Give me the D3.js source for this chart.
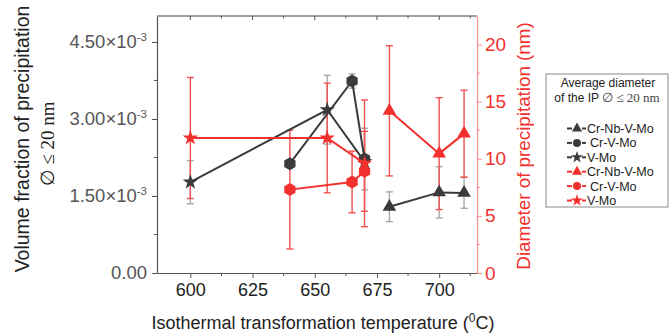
<!DOCTYPE html>
<html lang="en">
<head>
<meta charset="UTF-8">
<script src="https://d3js.org/d3.v7.min.js"></script>
<style>
  body { margin: 0; background: #fff; }
  svg { font-family: "Liberation Sans", Arial, sans-serif; }
</style>
</head>
<body>
<div id="chart"></div>
<script>
// temperatures (°C) per alloy
const tempNb = [680, 700, 710];
const tempCr = [640, 665, 670];
const tempV  = [600, 655, 670];

// volume fraction (left axis)
const fracNb = [1.29e-3, 1.57e-3, 1.56e-3];
const fracNbErr = [0.29e-3, 0.50e-3, 0.30e-3];
const fracCr = [2.13e-3, 3.74e-3, 2.22e-3];
const fracCrErr = [0, 0.14e-3, 0.60e-3];
const fracV = [1.77e-3, 3.18e-3, 2.17e-3];
const fracVErr = [0.42e-3, 0.67e-3, 0];

// diameter in nm (right axis)
const diamNb = [14.2, 10.45, 12.2];
const diamNbErr = [5.7, 4.9, 3.8];
const diamCr = [7.3, 7.97, 8.9];
const diamCrErr = [5.2, 2.7, 3.5];
const diamV = [11.82, 11.82, 9.6];
const diamVErr = [5.3, 4.8, 5.55];

const leftTicks = [0, 1.5e-3, 3e-3, 4.5e-3];
const rightTicks = [0, 5, 10, 15, 20];
const xTicks = [600, 625, 650, 675, 700];
const legendNames = ["Cr-Nb-V-Mo", "Cr-V-Mo", "V-Mo"];

const width = 670, height = 334;
const L = 157, R = 477, T = 16, B = 273;
const dark = "#3b3b3b", red = "#f2302e";

const svg = d3.select("#chart").append("svg")
  .attr("width", width).attr("height", height);

const x = d3.scaleLinear().domain([586.6, 715.2]).range([L, R]);
const yL = d3.scaleLinear().domain([0, 5.006e-3]).range([B, T]);
const yR = d3.scaleLinear().domain([0, 22.5]).range([B, T]);

// frame: top line
svg.append("line").attr("x1", L).attr("x2", R).attr("y1", T).attr("y2", T)
  .attr("stroke", "#444").attr("stroke-width", 1.2);

// bottom axis
const xAxis = svg.append("g").attr("transform", `translate(0,${B})`)
  .call(d3.axisBottom(x).tickValues(xTicks).tickSize(5).tickSizeOuter(0).tickFormat(d3.format("d")));
xAxis.select(".domain").attr("stroke", "#555").attr("stroke-width", 1.2);
xAxis.selectAll(".tick line").attr("stroke", "#555");
xAxis.selectAll("text").attr("font-size", 18).attr("fill", "#222").attr("y", 10).attr("dy", "0.71em");
xAxis.selectAll(".minor").data([612.5, 637.5, 662.5, 687.5, 712.5]).join("line")
  .attr("x1", d => x(d)).attr("x2", d => x(d)).attr("y1", 0).attr("y2", 3).attr("stroke", "#555");

// top inward ticks
svg.append("g").selectAll("line").data(xTicks.concat([612.5, 637.5, 662.5, 687.5, 712.5])).join("line")
  .attr("x1", d => x(d)).attr("x2", d => x(d)).attr("y1", T).attr("y2", d => T + (d % 25 === 0 ? 4 : 2.5))
  .attr("stroke", "#555");

// left axis
const supFmt = function(sel) {
  sel.each(function(d) {
    const t = d3.select(this).text("");
    if (d === 0) { t.text("0.00"); return; }
    t.append("tspan").text((d * 1e3).toFixed(2) + "×10");
    t.append("tspan").attr("font-size", 11.5).attr("dy", -7).text("-3");
  });
};
const yAxisL = svg.append("g").attr("transform", `translate(${L},0)`)
  .call(d3.axisLeft(yL).tickValues(leftTicks).tickSize(5).tickSizeOuter(0));
yAxisL.select(".domain").attr("stroke", "#555").attr("stroke-width", 1.2);
yAxisL.selectAll(".tick line").attr("stroke", "#555");
yAxisL.selectAll(".tick text").attr("font-size", 18.5).attr("fill", "#555").attr("x", -10).call(supFmt);
yAxisL.selectAll(".minor").data([0.75e-3, 2.25e-3, 3.75e-3]).join("line")
  .attr("x1", -3).attr("x2", 0).attr("y1", d => yL(d)).attr("y2", d => yL(d)).attr("stroke", "#555");

// right axis (red)
const yAxisR = svg.append("g").attr("transform", `translate(${R},0)`)
  .call(d3.axisRight(yR).tickValues(rightTicks).tickSize(5).tickSizeOuter(0));
yAxisR.select(".domain").attr("stroke", "#ff8a8a").attr("stroke-width", 1.2);
yAxisR.selectAll(".tick line").attr("stroke", "#ff8a8a");
yAxisR.selectAll(".tick text").attr("font-size", 19).attr("fill", red).attr("x", 8);
yAxisR.selectAll(".minor").data([2.5, 7.5, 12.5, 17.5]).join("line")
  .attr("x1", 0).attr("x2", 3).attr("y1", d => yR(d)).attr("y2", d => yR(d)).attr("stroke", "#ff8a8a");

// axis titles
svg.append("text").attr("transform", "translate(29,139) rotate(-90)")
  .attr("text-anchor", "middle").attr("font-size", 19.5).attr("fill", "#222")
  .text("Volume fraction of precipitation");
svg.append("text").attr("transform", "translate(54,144) rotate(-90)")
  .attr("text-anchor", "middle").attr("font-size", 19).attr("fill", "#222")
  .attr("font-family", "Liberation Serif, serif")
  .text("∅ ≤ 20 nm");
svg.append("text").attr("transform", "translate(530,146) rotate(-90)")
  .attr("text-anchor", "middle").attr("font-size", 18.8).attr("fill", red)
  .text("Diameter of precipitation (nm)");
const xl = svg.append("text").attr("x", 323).attr("y", 329)
  .attr("text-anchor", "middle").attr("font-size", 18).attr("fill", "#222");
xl.append("tspan").text("Isothermal transformation temperature (");
xl.append("tspan").attr("font-size", 12).attr("dy", -7).text("0");
xl.append("tspan").attr("dy", 7).text("C)");

// markers
const hexPath = r => d3.range(6).map(i => {
  const a = Math.PI / 6 + i * Math.PI / 3;
  return [r * Math.cos(a), r * Math.sin(a)];
});
const markerPath = {
  tri: d3.symbol(d3.symbolTriangle, 80)(),
  hex: "M" + hexPath(6.5).join("L") + "Z",
  star: d3.symbol(d3.symbolStar, 75)()
};

const series = [
  {xs: tempNb, ys: fracNb, es: fracNbErr, y: yL, c: dark, ec: "#a8a8a8", m: "tri"},
  {xs: tempCr, ys: fracCr, es: fracCrErr, y: yL, c: dark, ec: "#a8a8a8", m: "hex"},
  {xs: tempV, ys: fracV, es: fracVErr, y: yL, c: dark, ec: "#a8a8a8", m: "star"},
  {xs: tempNb, ys: diamNb, es: diamNbErr, y: yR, c: red, ec: "#f25050", m: "tri"},
  {xs: tempCr, ys: diamCr, es: diamCrErr, y: yR, c: red, ec: "#f25050", m: "hex"},
  {xs: tempV, ys: diamV, es: diamVErr, y: yR, c: red, ec: "#f25050", m: "star"}
];

// error bars
series.forEach(s => {
  const g = svg.append("g").attr("stroke", s.ec).attr("stroke-width", 1.4);
  s.xs.forEach((t, i) => {
    if (!s.es[i]) return;
    const px = x(t), y0 = s.y(s.ys[i] - s.es[i]), y1 = s.y(s.ys[i] + s.es[i]);
    g.append("line").attr("x1", px).attr("x2", px).attr("y1", y0).attr("y2", y1);
    [y0, y1].forEach(yy => g.append("line").attr("x1", px - 3.5).attr("x2", px + 3.5).attr("y1", yy).attr("y2", yy));
  });
});

// lines + markers
series.forEach(s => {
  const pts = s.xs.map((t, i) => [x(t), s.y(s.ys[i])]);
  svg.append("path").attr("d", d3.line()(pts)).attr("fill", "none")
    .attr("stroke", s.c).attr("stroke-width", 2);
  svg.append("g").selectAll("path").data(pts).join("path")
    .attr("transform", d => `translate(${d[0]},${d[1]})`)
    .attr("d", markerPath[s.m]).attr("fill", s.c);
});

// legend
const lg = svg.append("g");
lg.append("rect").attr("x", 546).attr("y", 74).attr("width", 122).attr("height", 133)
  .attr("fill", "#fff").attr("stroke", "#888");
lg.append("text").attr("x", 608).attr("y", 87).attr("text-anchor", "middle")
  .attr("font-size", 12).attr("fill", "#222").text("Average diameter");
const lt = lg.append("text").attr("x", 607).attr("y", 102).attr("text-anchor", "middle")
  .attr("font-size", 12).attr("fill", "#222");
lt.append("tspan").text("of the IP ");
lt.append("tspan").attr("font-family", "Liberation Serif, serif").attr("font-size", 13).attr("fill", "#444").text("∅ ≤ 20 nm");
series.forEach((s, i) => {
  const yy = 128.5 + i * 14.4;
  const row = lg.append("g").attr("transform", `translate(577,${yy})`);
  row.append("line").attr("x1", -10).attr("x2", -5).attr("stroke", s.c).attr("stroke-width", 2);
  row.append("line").attr("x1", 5).attr("x2", 9).attr("stroke", s.c).attr("stroke-width", 2);
  row.append("path").attr("d", d3.symbol(s.m === "tri" ? d3.symbolTriangle : s.m === "star" ? d3.symbolStar : d3.symbolCircle, s.m === "hex" ? 50 : 45)())
    .attr("fill", s.c);
  row.append("text").attr("x", s.m === "hex" ? 13 : 10).attr("dy", "0.36em").attr("font-size", 12.5)
    .attr("fill", "#222").text(legendNames[i % 3]);
});
</script>
</body>
</html>
